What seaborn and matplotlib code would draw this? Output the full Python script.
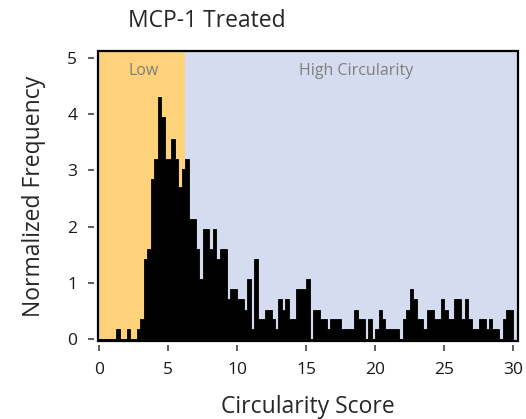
import numpy as np
import pandas as pd
import matplotlib
matplotlib.use("Agg")
import matplotlib.pyplot as plt
from matplotlib.patches import Rectangle
import seaborn as sns

# Histogram heights (bin width 0.25, range 0-30)
bin_width = 0.25
heights = [
    0, 0, 0, 0, 0, 0.18, 0, 0, 0.18, 0,
    0, 0.18, 0.36, 1.42, 1.6, 2.85, 3.2, 4.3, 3.95, 3.2,
    3.2, 3.56, 3.2, 2.7, 3.03, 3.2, 2.14, 2.14, 1.6, 1.07,
    1.96, 1.96, 1.6, 1.96, 1.42, 1.6, 1.6, 0.71, 0.89, 0.89,
    0.71, 0.71, 0.53, 1.07, 0.18, 1.42, 0.36, 0.36, 0.53, 0.53,
    0.36, 0.18, 0.71, 0.53, 0.71, 0.36, 0.36, 0.89, 0.89, 0.89,
    1.07, 0, 0.53, 0.53, 0.36, 0.36, 0.18, 0.36, 0.36, 0.36,
    0.18, 0.18, 0.18, 0.18, 0.53, 0.36, 0.36, 0, 0.36, 0,
    0.18, 0.53, 0.36, 0.18, 0.18, 0.18, 0.18, 0, 0.36, 0.53,
    0.89, 0.71, 0.36, 0.36, 0.18, 0.53, 0.53, 0.36, 0.36, 0.71,
    0.53, 0.36, 0.36, 0.71, 0.71, 0.36, 0.71, 0.36, 0.18, 0.18,
    0.36, 0.36, 0.18, 0.36, 0.18, 0.18, 0, 0.36, 0.53, 0.53,
]
low_cutoff = 6.25
x_ticks = [0, 5, 10, 15, 20, 25, 30]
y_ticks = [0, 1, 2, 3, 4, 5]

df = pd.DataFrame({
    "score": np.arange(len(heights)) * bin_width + bin_width / 2,
    "height": heights,
})

sns.set_style("ticks")
plt.rcParams['font.family'] = ['Open Sans', 'DejaVu Sans']

fig = plt.figure(figsize=(5.26, 4.19), dpi=100)
ax = fig.add_axes([0.1863, 0.186, 0.7985, 0.692])

xmin, xmax = -0.07, 30.35
ax.axvspan(xmin, low_cutoff, color="#FDD27B", zorder=0, lw=0)
ax.axvspan(low_cutoff, xmax, color="#D6DCF0", zorder=0, lw=0)

sns.histplot(data=df, x="score", weights="height", binwidth=bin_width,
             binrange=(0, 30), element="step", fill=True, color="black",
             alpha=1, linewidth=0.6, ax=ax, zorder=2)

ax.set_xlim(xmin, xmax)
ax.set_ylim(-0.03, 5.12)
ax.set_xticks(x_ticks)
ax.set_yticks(y_ticks)

# ticks sit a little away from the frame, like the reference
for side in ["left", "bottom"]:
    ax.spines[side].set_position(("outward", 3))
for s in ax.spines.values():
    s.set_visible(False)
ax.add_patch(Rectangle((0, 0), 1, 1, transform=ax.transAxes, fill=False,
                       edgecolor="black", lw=1.6, zorder=5, clip_on=False))
ax.tick_params(direction="out", length=4.5, width=1.1, labelsize=12.5,
               color="#333333", labelcolor="#1a1a1a", pad=7.5)

ax.text(3.2, 4.77, "Low", color="#7f7f7f", fontsize=11.5, ha="center", va="center")
ax.text(18.6, 4.77, "High Circularity", color="#7f7f7f", fontsize=11.5, ha="center", va="center")

ax.set_xlabel("Circularity Score", fontsize=16.5, labelpad=12)
ax.set_ylabel("Normalized Frequency", fontsize=16.5, labelpad=15)
fig.text(0.243, 0.950, "MCP-1 Treated", fontsize=16.5, ha="left", va="center")

fig.savefig("out.png", dpi=100)
